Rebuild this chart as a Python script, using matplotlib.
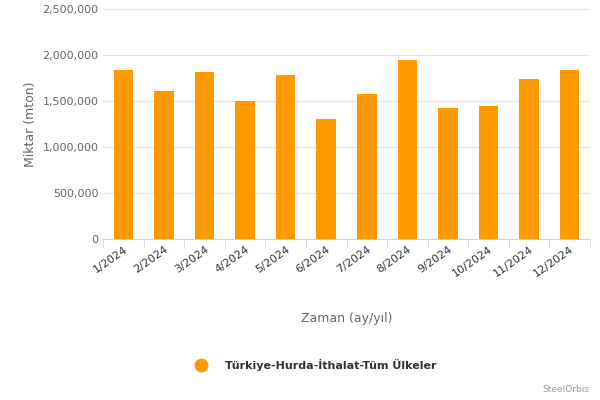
import matplotlib
matplotlib.use("Agg")
import matplotlib.pyplot as plt
from matplotlib.ticker import FuncFormatter
from matplotlib.lines import Line2D

months = ["1/2024","2/2024","3/2024","4/2024","5/2024","6/2024","7/2024","8/2024","9/2024","10/2024","11/2024","12/2024"]
values = [1840000,1610000,1815000,1500000,1783000,1304000,1576000,1946000,1424000,1446000,1739000,1837000]

fig = plt.figure(figsize=(6,4), dpi=100)
ax = fig.add_axes([0.172, 0.4025, 0.811, 0.575])
ax.bar(range(len(months)), values, width=0.48, color="#FF9900", zorder=3)
ax.set_xlim(-0.5, len(months)-0.5)
ax.set_ylim(0, 2500000)
ax.set_yticks([0,500000,1000000,1500000,2000000,2500000])
ax.yaxis.set_major_formatter(FuncFormatter(lambda v,p: f"{int(v):,}"))
ax.grid(axis="y", color="#e6e6e6", lw=0.8, zorder=0)
for s in ["top","right","left"]:
    ax.spines[s].set_visible(False)
ax.spines["bottom"].set_color("#ccd6eb")
ax.set_xticks(range(len(months)))
ax.set_xticklabels(months, rotation=35, ha="right", rotation_mode="anchor", fontsize=8, color="#333333")
ax.tick_params(axis="y", length=0, labelsize=8, labelcolor="#666666")
ax.tick_params(axis="x", length=0)
ax.set_xticks([i-0.5 for i in range(len(months)+1)], minor=True)
ax.tick_params(axis="x", which="minor", length=6, color="#ccd6eb")
ax.set_ylabel("Miktar (mton)", fontsize=9, color="#666666")
fig.text(0.578, 0.195, "Zaman (ay/yıl)", ha="center", fontsize=9, color="#666666")
fig.add_artist(Line2D([0.335], [0.0875], marker="o", markersize=9, color="#FF9900", transform=fig.transFigure))
fig.text(0.375, 0.0875, "Türkiye-Hurda-İthalat-Tüm Ülkeler", va="center", fontsize=8, fontweight="bold", color="#333333")
fig.text(0.983, 0.02, "SteelOrbis", ha="right", fontsize=6.5, color="#999999")
fig.savefig("out.png", dpi=100)
